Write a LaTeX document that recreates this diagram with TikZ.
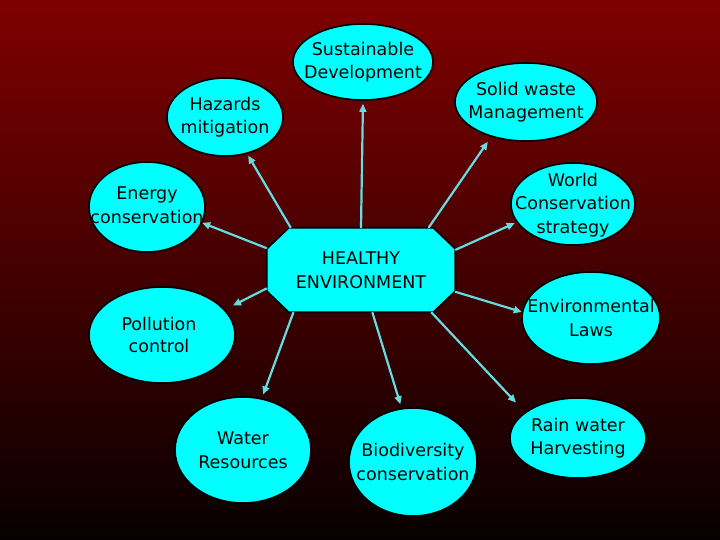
\documentclass[tikz,border=0pt]{standalone}
\usepackage{fontspec}
\setmainfont{DejaVu Sans}
\usetikzlibrary{shapes.geometric,arrows.meta}
\pgfdeclarelayer{back}
\pgfsetlayers{back,main}
\definecolor{bgtop}{RGB}{128,0,0}
\definecolor{bgmid}{RGB}{98,0,0}
\definecolor{bgbot}{RGB}{8,0,0}
\definecolor{cy}{RGB}{0,255,255}
\definecolor{arrc}{RGB}{100,220,225}
\tikzset{
  ell/.style={ellipse, draw=black, line width=1.6pt, fill=cy, inner sep=0pt},
  txt/.style={align=center, font=\fontsize{17.5}{23.5}\selectfont, text=black, inner sep=0pt},
  octbox/.style={rectangle, minimum width=188pt, minimum height=84pt, inner sep=0pt,
    align=center, font=\fontsize{17.5}{23.5}\selectfont},
  octline/.style={draw=black, line width=1.6pt, fill=cy, line join=miter},
  arr/.style={draw=arrc, line width=2.2pt, -{Triangle[length=8pt,width=7pt]}}
}
\begin{document}
\begin{tikzpicture}[x=1pt,y=-1pt]
\node[octbox] (env) at (361,270) {HEALTHY\\ENVIRONMENT};
\begin{pgfonlayer}{back}
\path[use as bounding box, top color=bgtop, middle color=bgmid, bottom color=bgbot] (0,0) rectangle (720,540);
\path[octline] ([xshift=22pt]env.north west) -- ([xshift=-22pt]env.north east)
  -- ([yshift=-21pt]env.north east) -- ([yshift=21pt]env.south east)
  -- ([xshift=-22pt]env.south east) -- ([xshift=22pt]env.south west)
  -- ([yshift=21pt]env.south west) -- ([yshift=-21pt]env.north west) -- cycle;
\end{pgfonlayer}

\node[ell, minimum width=140pt, minimum height=76pt] (sd) at (363,62) {};
\node[txt] (sdt) at (sd) {Sustainable\\Development};
\node[ell, minimum width=116pt, minimum height=78pt] (hz) at (225,117) {};
\node[txt] (hzt) at (hz) {Hazards\\mitigation};
\node[ell, minimum width=142pt, minimum height=78pt] (sw) at (526,102) {};
\node[txt] (swt) at (sw) {Solid waste\\Management};
\node[ell, minimum width=116pt, minimum height=90pt] (en) at (147,207) {};
\node[txt] (ent) at ([yshift=2pt]en) {Energy\\conservation};
\node[ell, minimum width=124pt, minimum height=82pt] (wc) at (573,204) {};
\node[txt] (wct) at ([yshift=-1pt]wc) {World\\Conservation\\strategy};
\node[ell, minimum width=146pt, minimum height=96pt] (pc) at (162,335) {};
\node[txt, font=\fontsize{17.5}{22}\selectfont] (pct) at ([xshift=-3pt]pc) {Pollution\\control};
\node[ell, minimum width=138pt, minimum height=92pt] (el) at (591,318) {};
\node[txt] (elt) at (el) {Environmental\\Laws};
\node[ell, minimum width=136pt, minimum height=106pt] (wr) at (243,450) {};
\node[txt] (wrt) at (wr) {Water\\Resources};
\node[ell, minimum width=128pt, minimum height=108pt] (bc) at (413,462) {};
\node[txt] (bct) at (bc) {Biodiversity\\conservation};
\node[ell, minimum width=136pt, minimum height=80pt] (rw) at (578,438) {};
\node[txt] (rwt) at (rw) {Rain water\\Harvesting};

\draw[arr, shorten >=3pt] (env.north) -- (sd.south);
\draw[arr, shorten >=2pt] (env.149.4) -- (hz.-59.9);
\draw[arr, shorten >=6pt] (env.32.5) -- (sw.-135);
\draw[arr] (env.167.6) -- (en.-16.4);
\draw[arr, shorten >=2pt] (env.12.3) -- (wc.-162.8);
\draw[arr, shorten >=9pt] (env.-169.6) -- (pc.22.5);
\draw[arr] (env.-13.2) -- (el.175);
\draw[arr, shorten >=4pt] (env.-148.3) -- (wr.70);
\draw[arr, shorten >=4pt] (env.-75.3) -- (bc.102.8);
\draw[arr, shorten >=13pt] (env.-31.3) -- (rw.154.5);
\end{tikzpicture}
\end{document}
